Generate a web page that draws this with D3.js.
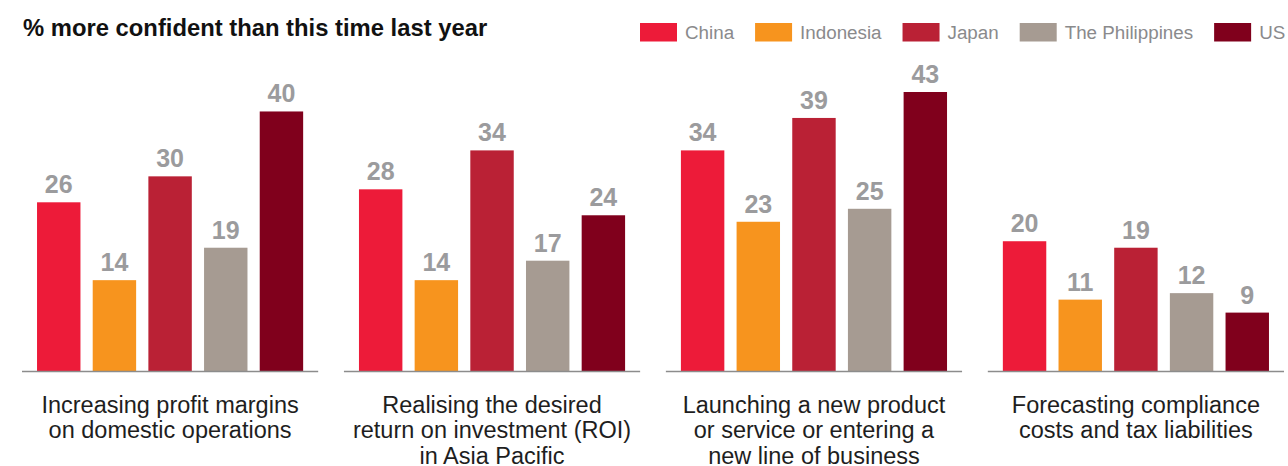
<!DOCTYPE html>
<html>
<head>
<meta charset="utf-8">
<script src="https://cdn.jsdelivr.net/npm/d3@7"></script>
<style>
  html, body { margin: 0; padding: 0; background: #fff; }
  svg { display: block; font-family: "Liberation Sans", Arial, Helvetica, sans-serif; }
</style>
</head>
<body>
<svg id="chart" width="1288" height="466"></svg>
<script>
const title = "% more confident than this time last year";
const categories = [
  ["Increasing profit margins", "on domestic operations"],
  ["Realising the desired", "return on investment (ROI)", "in Asia Pacific"],
  ["Launching a new product", "or service or entering a", "new line of business"],
  ["Forecasting compliance", "costs and tax liabilities"]
];
const seriesNames = ["China", "Indonesia", "Japan", "The Philippines", "US"];
const china       = [26, 28, 34, 20];
const indonesia   = [14, 14, 23, 11];
const japan       = [30, 34, 39, 19];
const philippines = [19, 17, 25, 12];
const us          = [40, 24, 43, 9];
const seriesValues = [china, indonesia, japan, philippines, us];
const colors = ["#ED1B39", "#F7941E", "#BA2135", "#A69B92", "#80001C"];

const svg = d3.select("#chart");
const baseY = 371;

const x0 = d3.scaleBand()
  .domain(d3.range(categories.length))
  .range([22, 1284])
  .paddingInner(0.08)
  .paddingOuter(0);

const x1 = d3.scaleBand()
  .domain(seriesNames)
  .range([0, x0.bandwidth()])
  .paddingInner(0.22)
  .paddingOuter(0.27);

const y = d3.scaleLinear().domain([0, 43]).range([baseY, 92]);

const color = d3.scaleOrdinal().domain(seriesNames).range(colors);

// Title
svg.append("text")
  .attr("x", 23).attr("y", 36)
  .attr("font-size", 23.8).attr("font-weight", "bold")
  .attr("fill", "#111")
  .text(title);

// Legend
const legend = svg.append("g").attr("transform", "translate(640,0)");
let lx = 0;
seriesNames.forEach((name) => {
  const g = legend.append("g").attr("transform", `translate(${lx},0)`);
  g.append("rect").attr("x", 0).attr("y", 23).attr("width", 37).attr("height", 18.5)
    .attr("fill", color(name));
  const t = g.append("text").attr("x", 45).attr("y", 39)
    .attr("font-size", 18.8).attr("fill", "#8a8a8c").text(name);
  const w = t.node().getComputedTextLength();
  lx += 45 + w + 21;
});

// Groups
const groups = svg.selectAll("g.group")
  .data(categories)
  .enter().append("g")
  .attr("class", "group")
  .attr("transform", (d, i) => `translate(${x0(i)},0)`);

groups.each(function(cat, gi) {
  const g = d3.select(this);
  const data = seriesNames.map((s, si) => ({ s, v: seriesValues[si][gi] }));
  g.selectAll("rect.bar").data(data).enter().append("rect")
    .attr("class", "bar")
    .attr("x", d => x1(d.s))
    .attr("y", d => y(d.v))
    .attr("width", x1.bandwidth())
    .attr("height", d => y(0) - y(d.v))
    .attr("fill", d => color(d.s));
  g.selectAll("text.val").data(data).enter().append("text")
    .attr("class", "val")
    .attr("x", d => x1(d.s) + x1.bandwidth() / 2)
    .attr("y", d => y(d.v) - 9)
    .attr("text-anchor", "middle")
    .attr("font-size", 25).attr("font-weight", "bold")
    .attr("fill", "#9b9b9d")
    .text(d => d.v);
  g.append("line")
    .attr("x1", 0).attr("x2", x0.bandwidth())
    .attr("y1", y(0) + 0.5).attr("y2", y(0) + 0.5)
    .attr("stroke", "#8c8c8c").attr("stroke-width", 1.5);
  const label = g.append("text")
    .attr("text-anchor", "middle")
    .attr("font-size", 23.5)
    .attr("fill", "#1e1e1e");
  cat.forEach((line, li) => {
    label.append("tspan")
      .attr("x", x0.bandwidth() / 2)
      .attr("y", 412.5 + li * 25.5)
      .text(line);
  });
});
</script>
</body>
</html>
